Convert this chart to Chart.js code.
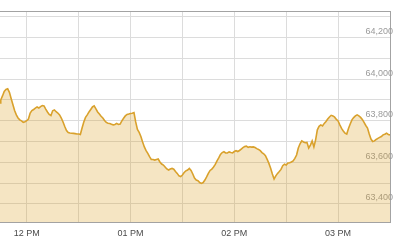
<!DOCTYPE html>
<html>
<head>
<meta charset="utf-8">
<script src="https://cdn.jsdelivr.net/npm/chart.js@4.4.1/dist/chart.umd.min.js"></script>
<style>
  html, body { margin: 0; padding: 0; background: #fff; }
</style>
</head>
<body>
<canvas id="indexChart" width="408" height="245"></canvas>
<script>
// one reading per minute, starting 11:44 (minute of day 704)
const startMinute = 704;
const indexValues = [
  63885, 63900, 63919, 63941, 63950, 63953, 63936, 63907, 63878, 63849,
  63828, 63813, 63804, 63799, 63792, 63795,
  // 12:00
  63800, 63808, 63837, 63849, 63854, 63860, 63866, 63861, 63868, 63873,
  63871, 63856, 63842, 63830, 63825, 63848, 63852, 63843, 63837, 63828,
  63813, 63794, 63772, 63753, 63743, 63741, 63740, 63739, 63738, 63736,
  // 12:30
  63736, 63734, 63765, 63794, 63816, 63828, 63842, 63854, 63866, 63871,
  63857, 63842, 63832, 63821, 63813, 63801, 63792, 63788, 63787, 63783,
  63780, 63782, 63787, 63782, 63784, 63799, 63812, 63823, 63830, 63832,
  // 01:00
  63835, 63836, 63839, 63794, 63758, 63744, 63724, 63698, 63674, 63656,
  63643, 63627, 63614, 63614, 63611, 63614, 63616, 63602, 63592, 63587,
  63578, 63568, 63563, 63568, 63571, 63567, 63556, 63547, 63535, 63532,
  // 01:30
  63539, 63551, 63559, 63563, 63571, 63561, 63544, 63525, 63515, 63512,
  63503, 63499, 63503, 63515, 63530, 63547, 63561, 63567, 63578, 63590,
  63607, 63621, 63638, 63647, 63651, 63645, 63645, 63650, 63647, 63645,
  // 02:00
  63652, 63656, 63652, 63657, 63664, 63671, 63676, 63678, 63672, 63675,
  63673, 63674, 63671, 63666, 63662, 63656, 63647, 63641, 63632, 63614,
  63595, 63572, 63544, 63520, 63535, 63547, 63556, 63566, 63584, 63591,
  // 02:30
  63587, 63597, 63598, 63602, 63607, 63619, 63635, 63669, 63689, 63703,
  63698, 63694, 63696, 63669, 63683, 63703, 63674, 63708, 63756, 63773,
  63780, 63775, 63787, 63796, 63808, 63818, 63826, 63823, 63817, 63806,
  // 03:00
  63799, 63780, 63763, 63751, 63740, 63736, 63763, 63784, 63804, 63815,
  63823, 63828, 63823, 63816, 63806, 63792, 63777, 63765, 63736, 63712,
  63700, 63703, 63710, 63715, 63720, 63724, 63732, 63735, 63740, 63734,
  63732, 63740
];

const xGridMinutes = [720, 750, 780, 810, 840, 870, 900, 930];
const xTickLabels = ["12 PM", "", "01 PM", "", "02 PM", "", "03 PM", ""];
const yGridValues = [63400, 63500, 63600, 63700, 63800, 63900, 64000, 64100, 64200, 64300];
const yTickLabels = ["63,400", "", "63,600", "", "63,800", "", "64,000", "", "64,200", ""];

const points = indexValues.map((v, i) => ({ x: startMinute + i, y: v }));

const frameTop = {
  id: "frameTop",
  afterDraw(chart) {
    const { ctx, chartArea } = chart;
    ctx.save();
    ctx.strokeStyle = "#a3a3a3";
    ctx.lineWidth = 1;
    ctx.beginPath();
    ctx.moveTo(chartArea.left, Math.round(chartArea.top) + 0.5);
    ctx.lineTo(chartArea.right, Math.round(chartArea.top) + 0.5);
    ctx.stroke();
    ctx.restore();
  }
};

const ctx = document.getElementById("indexChart").getContext("2d");
new Chart(ctx, {
  type: "line",
  data: {
    datasets: [{
      data: points,
      borderColor: "#d9a12c",
      borderWidth: 1.6,
      backgroundColor: "rgba(218, 160, 40, 0.28)",
      fill: "start",
      pointRadius: 0,
      tension: 0
    }]
  },
  options: {
    responsive: false,
    animation: false,
    layout: { padding: { left: 0, right: 18, top: 11, bottom: 0 } },
    plugins: { legend: { display: false }, tooltip: { enabled: false } },
    scales: {
      x: {
        type: "linear",
        min: 704.56,
        max: 930,
        afterBuildTicks: s => { s.ticks = xGridMinutes.map(v => ({ value: v })); },
        afterFit: s => { s.height = 22.7; },
        grid: { color: "#dcdcdc", drawTicks: false },
        border: { color: "#a3a3a3" },
        ticks: {
          autoSkip: false,
          maxRotation: 0,
          padding: 6,
          color: "#4a4a4a",
          font: { family: "'Liberation Sans', Arial", size: 9 },
          callback: (v, i) => xTickLabels[i]
        }
      },
      y: {
        position: "right",
        min: 63312,
        max: 64327,
        afterBuildTicks: s => { s.ticks = yGridValues.map(v => ({ value: v })); },
        afterFit: s => { s.width = 0; },
        grid: { color: "#dcdcdc", drawTicks: false },
        border: { color: "#a3a3a3" },
        ticks: {
          mirror: true,
          padding: 3,
          labelOffset: -6,
          color: "#9a9a9a",
          font: { family: "'Liberation Sans', Arial", size: 9 },
          callback: (v, i) => yTickLabels[i]
        }
      }
    }
  },
  plugins: [frameTop]
});
</script>
</body>
</html>
